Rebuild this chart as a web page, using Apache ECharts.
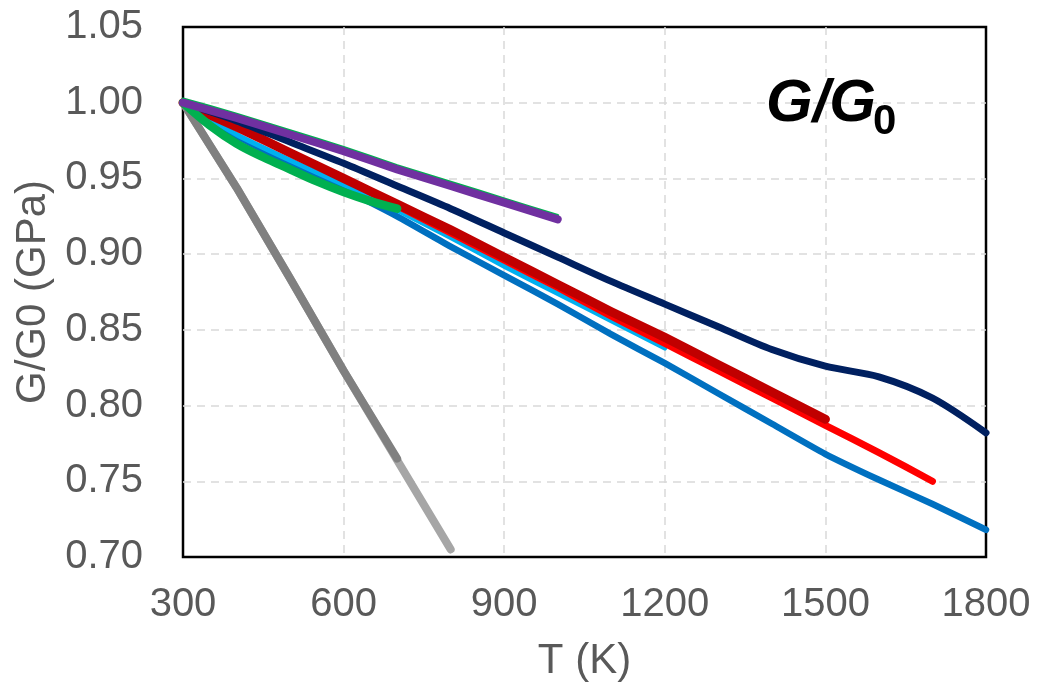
<!DOCTYPE html>
<html>
<head>
<meta charset="utf-8">
<script src="https://cdn.jsdelivr.net/npm/echarts@6/dist/echarts.min.js"></script>
<style>
  html, body { margin: 0; padding: 0; background: #fff; }
  #chart { width: 1054px; height: 692px; }
</style>
</head>
<body>
<div id="chart"></div>
<script>
var xTicks = [300, 600, 900, 1200, 1500, 1800];

// temperatures (K) and G/G0 values, one pair of arrays per curve
var tGrayLight = [300, 400, 500, 600, 700, 800];
var gGrayLight = [1.0, 0.944, 0.884, 0.823, 0.764, 0.705];

var tGray = [300, 400, 500, 600, 700];
var gGray = [1.0, 0.944, 0.884, 0.823, 0.765];

var tBlue = [300, 400, 500, 600, 700, 800, 900, 1000, 1100, 1200, 1300, 1400, 1500, 1600, 1700, 1800];
var gBlue = [1.0, 0.978, 0.960, 0.943, 0.925, 0.905, 0.886, 0.867, 0.847, 0.828, 0.808, 0.788, 0.768, 0.751, 0.735, 0.718];

var tLightBlue = [300, 400, 500, 600, 700, 800, 900, 1000, 1100, 1200];
var gLightBlue = [1.0, 0.979, 0.962, 0.946, 0.929, 0.911, 0.892, 0.874, 0.856, 0.838];

var tRed = [300, 400, 500, 600, 700, 800, 900, 1000, 1100, 1200, 1300, 1400, 1500, 1600, 1700];
var gRed = [1.0, 0.985, 0.967, 0.950, 0.932, 0.914, 0.896, 0.878, 0.859, 0.841, 0.823, 0.805, 0.787, 0.769, 0.750];

var tDarkRed = [300, 400, 500, 600, 700, 800, 900, 1000, 1100, 1200, 1300, 1400, 1500];
var gDarkRed = [1.0, 0.984, 0.967, 0.950, 0.933, 0.916, 0.898, 0.880, 0.862, 0.845, 0.827, 0.809, 0.791];

var tNavy = [300, 400, 500, 600, 700, 800, 900, 1000, 1100, 1200, 1300, 1400, 1500, 1600, 1700, 1800];
var gNavy = [1.0, 0.988, 0.974, 0.960, 0.945, 0.930, 0.914, 0.898, 0.882, 0.867, 0.852, 0.837, 0.826, 0.819, 0.805, 0.782];

var tGreen = [300, 350, 400, 450, 500, 550, 600, 650, 700];
var gGreen = [1.0, 0.985, 0.973, 0.964, 0.956, 0.948, 0.941, 0.935, 0.930];

var tGreenThin = [300, 400, 500, 600, 700, 800, 900, 1000];
var gGreenThin = [1.0025, 0.9925, 0.9815, 0.9705, 0.9585, 0.9475, 0.9365, 0.9255];

var tPurple = [300, 400, 500, 600, 700, 800, 900, 1000];
var gPurple = [1.0, 0.990, 0.979, 0.968, 0.956, 0.945, 0.934, 0.923];

function pairs(t, g) {
  return t.map(function (v, i) { return [v, g[i]]; });
}

function curve(t, g, color, width, smooth) {
  return {
    type: 'line',
    data: pairs(t, g),
    showSymbol: false,
    smooth: smooth,
    lineStyle: { color: color, width: width, cap: 'round', join: 'round' },
    silent: true,
    animation: false
  };
}

var chart = echarts.init(document.getElementById('chart'), null, { renderer: 'canvas' });

var gridLine = { show: true, showMinLine: false, showMaxLine: false, lineStyle: { color: '#d9d9d9', type: [8, 6], width: 1.5 } };

var option = {
  backgroundColor: '#fff',
  animation: false,
  grid: {
    left: 183, right: 68, top: 27, bottom: 135,
    show: true, borderColor: '#000', borderWidth: 2.5, backgroundColor: 'transparent'
  },
  xAxis: {
    type: 'value',
    min: 300, max: 1800, interval: 300,
    name: 'T (K)',
    nameLocation: 'middle',
    nameGap: 83,
    nameTextStyle: { color: '#595959', fontSize: 42, fontFamily: 'Liberation Sans' },
    axisLine: { show: false },
    axisTick: { show: false },
    axisLabel: {
      color: '#595959', fontSize: 40, fontFamily: 'Liberation Sans', margin: 28,
      formatter: function (v) { return xTicks.indexOf(v) >= 0 ? String(v) : ''; }
    },
    splitLine: gridLine
  },
  yAxis: {
    type: 'value',
    min: 0.70, max: 1.05, interval: 0.05,
    name: 'G/G0 (GPa)',
    nameLocation: 'middle',
    nameGap: 126,
    nameTextStyle: { color: '#595959', fontSize: 42, fontFamily: 'Liberation Sans' },
    axisLine: { show: false },
    axisTick: { show: false },
    axisLabel: {
      color: '#595959', fontSize: 40, fontFamily: 'Liberation Sans', margin: 40,
      formatter: function (v) { return v.toFixed(2); }
    },
    splitLine: gridLine
  },
  graphic: [{
    type: 'text',
    left: 766,
    top: 74,
    z: 100,
    style: {
      text: 'G/G',
      font: 'italic bold 60px "Liberation Sans"',
      fill: '#000'
    }
  }, {
    type: 'text',
    left: 873,
    top: 101,
    z: 100,
    style: {
      text: '0',
      font: 'bold 42px "Liberation Sans"',
      fill: '#000'
    }
  }],
  series: [
    curve(tGrayLight, gGrayLight, '#a6a6a6', 8, false),
    curve(tGray, gGray, '#808080', 8, false),
    curve(tBlue, gBlue, '#0070c0', 6.5, 0.2),
    curve(tLightBlue, gLightBlue, '#00b0f0', 5, 0.2),
    curve(tRed, gRed, '#ff0000', 7, 0.2),
    curve(tDarkRed, gDarkRed, '#c00000', 9, 0.2),
    curve(tNavy, gNavy, '#002060', 7, 0.3),
    curve(tGreen, gGreen, '#00b050', 8.5, 0.4),
    curve(tGreenThin, gGreenThin, '#00b050', 3, 0.2),
    curve(tPurple, gPurple, '#7030a0', 8, 0.2)
  ]
};

chart.setOption(option);

window.addEventListener('resize', function () {
  chart.resize();
});
</script>
</body>
</html>
